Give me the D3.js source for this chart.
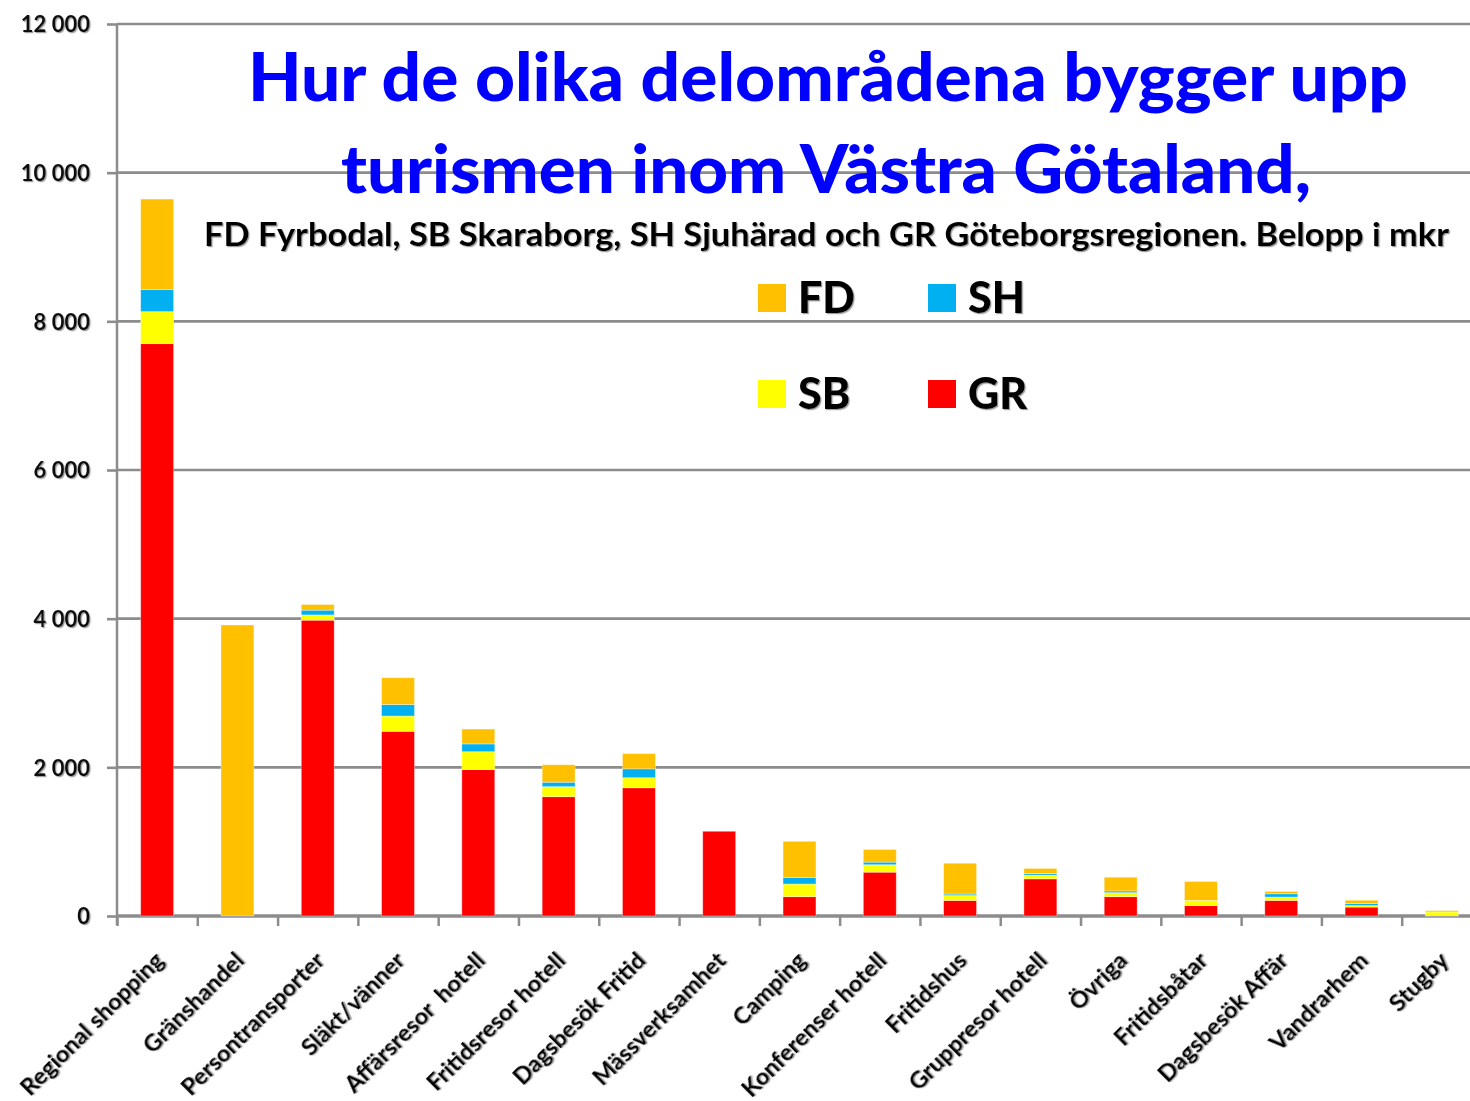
<!DOCTYPE html>
<html>
<head>
<meta charset="utf-8">
<script src="https://cdn.jsdelivr.net/npm/d3@7"></script>
<style>
  body { margin: 0; background: #fff; }
  svg { display: block; }
  .axis path, .axis line { stroke: #8c8c8c; }
  .axis text { font-family: Lato, "Open Sans", sans-serif; font-weight: 700; fill: #111; }
</style>
</head>
<body>
<div id="viz"></div>
<script>
// values in mkr
var categories = ["Regional shopping", "Gränshandel", "Persontransporter", "Släkt/vänner",
  "Affärsresor  hotell", "Fritidsresor hotell", "Dagsbesök Fritid", "Mässverksamhet",
  "Camping", "Konferenser hotell", "Fritidshus", "Gruppresor hotell", "Övriga",
  "Fritidsbåtar", "Dagsbesök Affär", "Vandrarhem", "Stugby"];
var GR = [7700, 0, 3980, 2485, 1970, 1605, 1725, 1140, 260, 590, 210, 500, 260, 140, 210, 120, 3];
var SB = [430, 0, 70, 205, 240, 135, 135, 0, 170, 100, 65, 50, 55, 70, 45, 20, 52];
var SH = [300, 0, 65, 155, 105, 60, 120, 0, 90, 35, 20, 22, 22, 0, 44, 27, 0];
var FD = [1215, 3915, 75, 360, 200, 235, 205, 0, 485, 170, 415, 68, 185, 255, 32, 45, 17];
var yTicks = [0, 2000, 4000, 6000, 8000, 10000, 12000];

var seriesKeys = ["GR", "SB", "SH", "FD"];
var colors = { GR: "#ff0000", SB: "#ffff00", SH: "#00b0f0", FD: "#ffc000" };
var legendItems = [["FD", 0, 0], ["SH", 1, 0], ["SB", 0, 1], ["GR", 1, 1]];

var width = 1470, height = 1101,
  plotLeft = 117, plotRight = 1482, plotTop = 24, plotBottom = 916;

var rows = categories.map(function(c, i) {
  return { cat: c, GR: GR[i], SB: SB[i], SH: SH[i], FD: FD[i] };
});

var svg = d3.select("#viz").append("svg")
  .attr("width", width).attr("height", height);

var defs = svg.append("defs");
defs.append("filter").attr("id", "shadow")
  .append("feDropShadow").attr("dx", 1.2).attr("dy", 1.2)
  .attr("stdDeviation", 0.6).attr("flood-color", "#777").attr("flood-opacity", 0.7);

var x = d3.scaleBand().domain(categories).range([plotLeft, plotRight])
  .paddingInner(0.59).paddingOuter(0.295);
var xEdge = d3.scaleLinear().domain([0, categories.length]).range([plotLeft, plotRight]);
var y = d3.scaleLinear().domain([0, 12000]).range([plotBottom, plotTop]);

// gridlines
svg.append("g").selectAll("line")
  .data(yTicks)
  .enter().append("line")
  .attr("x1", plotLeft).attr("x2", width)
  .attr("y1", function(d) { return y(d); })
  .attr("y2", function(d) { return y(d); })
  .attr("stroke", "#8c8c8c")
  .attr("stroke-width", function(d) { return d == 0 ? 3.5 : 2.6; });

// y axis
var yAxis = svg.append("g").attr("class", "axis")
  .attr("transform", "translate(" + plotLeft + ",0)")
  .call(d3.axisLeft(y).tickValues(yTicks).tickSize(10).tickPadding(17)
    .tickFormat(function(d) { return d == 0 ? "0" : d3.format(",")(d).replace(",", " "); }));
yAxis.select(".domain").attr("stroke-width", 2.5).attr("d", "M0," + plotTop + "V" + (plotBottom + 9));
yAxis.selectAll(".tick line").attr("stroke-width", 2.6);
yAxis.selectAll("text").style("font-size", "22px").style("white-space", "pre").attr("dy", "0.36em")
  .attr("filter", "url(#shadow)");

// x axis ticks at category edges
var xAxis = svg.append("g").attr("class", "axis")
  .attr("transform", "translate(0," + plotBottom + ")")
  .call(d3.axisBottom(xEdge).tickValues(d3.range(categories.length + 1)).tickSize(10).tickFormat(""));
xAxis.select(".domain").remove();
xAxis.selectAll(".tick line").attr("stroke-width", 2.5);

// stacked bars
var stack = d3.stack().keys(seriesKeys)(rows);
svg.append("g").selectAll("g")
  .data(stack)
  .enter().append("g")
  .attr("fill", function(d) { return colors[d.key]; })
  .selectAll("rect")
  .data(function(d) { return d; })
  .enter().append("rect")
  .attr("x", function(d) { return x(d.data.cat); })
  .attr("width", x.bandwidth())
  .attr("y", function(d) { return y(d[1]); })
  .attr("height", function(d) { return Math.max(0, y(d[0]) - y(d[1])); })
  .attr("stroke", "#fff")
  .attr("stroke-opacity", 0.45)
  .attr("stroke-width", function(d) { return d[1] - d[0] > 0 ? 0.8 : 0; });

// category labels
svg.append("g").selectAll("text")
  .data(categories)
  .enter().append("text")
  .attr("transform", function(d) {
    return "translate(" + (x(d) + x.bandwidth() / 2 + 8) + "," + 962 + ") rotate(-45)";
  })
  .attr("text-anchor", "end")
  .attr("filter", "url(#shadow)")
  .style("font-family", "Lato, 'Open Sans', sans-serif")
  .style("font-weight", 700)
  .style("font-size", "23.5px")
  .style("white-space", "pre")
  .text(function(d) { return d; });

// title
var title = svg.append("g").style("font-family", "Lato, 'Open Sans', sans-serif").style("font-weight", 900);
title.append("text").attr("x", 248).attr("y", 101)
  .attr("textLength", 1160).attr("lengthAdjust", "spacingAndGlyphs")
  .style("font-size", "67px").attr("fill", "#0000ff")
  .text("Hur de olika delområdena bygger upp");
title.append("text").attr("x", 341).attr("y", 193)
  .attr("textLength", 970).attr("lengthAdjust", "spacingAndGlyphs")
  .style("font-size", "67px").attr("fill", "#0000ff")
  .text("turismen inom Västra Götaland,");
title.append("text").attr("x", 204).attr("y", 246)
  .attr("textLength", 1245).attr("lengthAdjust", "spacingAndGlyphs")
  .style("font-size", "32px").attr("fill", "#000").style("font-weight", 700)
  .attr("filter", "url(#shadow)")
  .text("FD Fyrbodal, SB Skaraborg, SH Sjuhärad och GR Göteborgsregionen. Belopp i mkr");

// legend
var legend = svg.append("g").selectAll("g")
  .data(legendItems)
  .enter().append("g")
  .attr("transform", function(d) { return "translate(" + (758 + d[1] * 170) + "," + (284 + d[2] * 96) + ")"; });
legend.append("rect").attr("width", 28).attr("height", 28)
  .attr("fill", function(d) { return colors[d[0]]; });
legend.append("text").attr("x", 40).attr("y", 29)
  .attr("filter", "url(#shadow)")
  .style("font-family", "Lato, 'Open Sans', sans-serif")
  .style("font-weight", 900).style("font-size", "43px")
  .text(function(d) { return d[0]; });
</script>
</body>
</html>
